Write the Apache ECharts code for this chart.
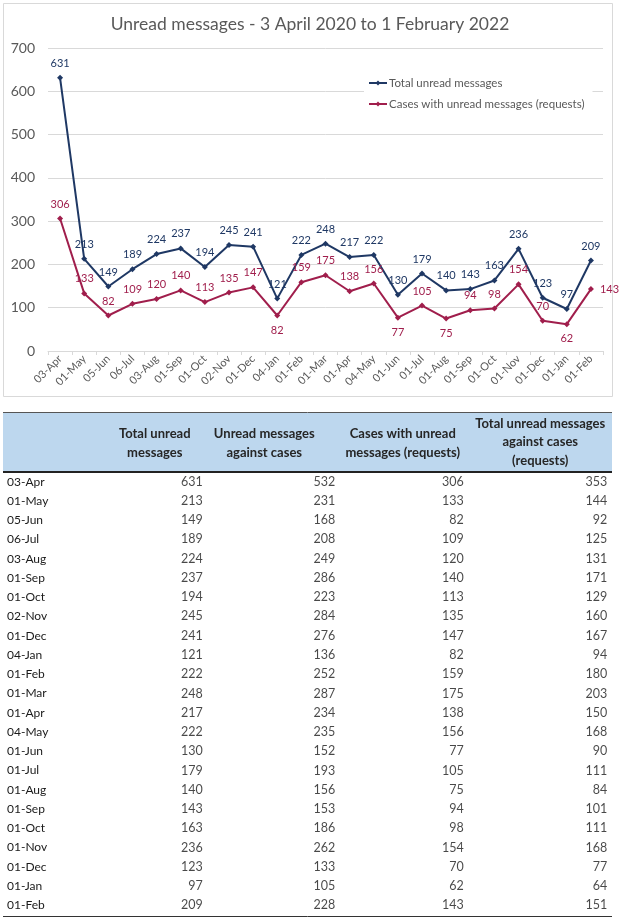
<!DOCTYPE html>
<html>
<head>
<meta charset="utf-8">
<script src="https://cdn.jsdelivr.net/npm/echarts@6/dist/echarts.min.js"></script>
<style>
html,body{margin:0;padding:0;background:#fff;}
#main{width:620px;height:920px;}
</style>
</head>
<body>
<div id="main"></div>
<script>
const dates = ['03-Apr','01-May','05-Jun','06-Jul','03-Aug','01-Sep','01-Oct','02-Nov','01-Dec','04-Jan','01-Feb','01-Mar','01-Apr','04-May','01-Jun','01-Jul','01-Aug','01-Sep','01-Oct','01-Nov','01-Dec','01-Jan','01-Feb'];
const totalUnread = [631,213,149,189,224,237,194,245,241,121,222,248,217,222,130,179,140,143,163,236,123,97,209];
const unreadAgainstCases = [532,231,168,208,249,286,223,284,276,136,252,287,234,235,152,193,156,153,186,262,133,105,228];
const casesWithUnread = [306,133,82,109,120,140,113,135,147,82,159,175,138,156,77,105,75,94,98,154,70,62,143];
const totalAgainstCases = [353,144,92,125,131,171,129,160,167,94,180,203,150,168,90,111,84,101,111,168,77,64,151];
const yTicks = {min:0, max:700, interval:100};
const chartTitle = 'Unread messages - 3 April 2020 to 1 February 2022';
const seriesNames = ['Total unread messages','Cases with unread messages (requests)'];
const tableHeaders = ['Total unread\nmessages','Unread messages\nagainst cases','Cases with unread\nmessages (requests)','Total unread messages\nagainst cases\n(requests)'];
const tableColumns = [totalUnread, unreadAgainstCases, casesWithUnread, totalAgainstCases];

// style config (label placement tweaks)
const casesLabelBelow = [9,14,16,21];
const casesLabelRight = [22];
const headerShift = [8,-12,-3,5];
const valueOffset = [56,59,58,72];

const FONT = 'Lato, "Open Sans", sans-serif';
const NAVY = '#1F3864';
const RED = '#A01E4C';
const GREY = '#595959';

const chart = echarts.init(document.getElementById('main'), null, {renderer:'canvas'});

const casesData = casesWithUnread.map((v,i)=>{
  if (casesLabelBelow.includes(i)) return {value:v, label:{position:'bottom'}};
  if (casesLabelRight.includes(i)) return {value:v, label:{position:'right'}};
  return v;
});

const tableSeries = tableColumns.map((col,k)=>({
  type:'scatter',
  xAxisIndex:1, yAxisIndex:1,
  symbolSize:0,
  silent:true,
  data: col.map((v,i)=>[k,i,v]),
  encode:{x:0,y:1},
  label:{
    show:true, position:'inside', align:'right', verticalAlign:'middle',
    offset:[valueOffset[k],0],
    formatter:p=>String(p.value[2]),
    color:'#1a1a1a', fontSize:12.5, fontFamily:FONT
  }
}));

const HEADER_LH = 18.5;
const headerData = tableHeaders.map((h,k)=>{
  const lines = h.split('\n').length;
  const bottomPad = (3 - lines) * 8.25;
  const s = headerShift[k];
  return {
    value:h,
    textStyle:{padding:[0, s < 0 ? -2*s : 0, bottomPad, s > 0 ? 2*s : 0]}
  };
});

const option = {
  backgroundColor:'#fff',
  animation:false,
  title:{
    text:chartTitle, left:'center', top:10,
    textStyle:{fontFamily:FONT, fontSize:17.5, fontWeight:'normal', color:GREY}
  },
  legend:{
    orient:'vertical', left:364, top:73,
    backgroundColor:'#fff', padding:[4,8,4,4],
    itemWidth:18, itemHeight:6, itemGap:9,
    data:seriesNames,
    textStyle:{fontFamily:FONT, fontSize:11.5, color:GREY, padding:[0,0,0,-3]}
  },
  grid:[
    {left:48, right:17, top:48, bottom:569},
    {left:82, width:518, top:472, height:443}
  ],
  xAxis:[
    {
      type:'category', gridIndex:0, data:dates, boundaryGap:true,
      axisLine:{show:true, lineStyle:{color:'#d9d9d9'}},
      axisTick:{show:true, length:4, lineStyle:{color:'#d9d9d9'}},
      axisLabel:{rotate:45, fontSize:11, color:GREY, fontFamily:FONT, margin:6, interval:0}
    },
    {
      type:'category', gridIndex:1, position:'top',
      data: headerData,
      axisLine:{show:false}, axisTick:{show:false}, splitLine:{show:false},
      axisLabel:{interval:0, fontSize:13, fontWeight:'bold', color:'#262626', fontFamily:FONT,
        lineHeight:HEADER_LH, align:'center', margin:2}
    }
  ],
  yAxis:[
    {
      type:'value', gridIndex:0, min:yTicks.min, max:yTicks.max, interval:yTicks.interval,
      axisLine:{show:false}, axisTick:{show:false},
      splitLine:{lineStyle:{color:'#d9d9d9'}},
      axisLabel:{fontSize:14, color:GREY, fontFamily:FONT, margin:13}
    },
    {
      type:'category', gridIndex:1, data:dates, inverse:true,
      axisLine:{show:false}, axisTick:{show:false}, splitLine:{show:false},
      axisLabel:{interval:0, align:'left', margin:75, fontSize:12, color:'#1a1a1a', fontFamily:FONT}
    }
  ],
  graphic:[
    {type:'rect', silent:true, z:-10, shape:{x:3.5,y:3.5,width:609,height:393}, style:{fill:'#fff', stroke:'#d9d9d9', lineWidth:1}},
    {type:'rect', silent:true, z:-10, shape:{x:3,y:413,width:609,height:58}, style:{fill:'#BDD7EE'}},
    {type:'line', silent:true, shape:{x1:3,y1:412.5,x2:612,y2:412.5}, style:{stroke:'#555', lineWidth:1}},
    {type:'line', silent:true, shape:{x1:3,y1:472,x2:612,y2:472}, style:{stroke:'#222', lineWidth:2}},
    {type:'line', silent:true, shape:{x1:3,y1:916.5,x2:612,y2:916.5}, style:{stroke:'#333', lineWidth:1}}
  ],
  series:[
    {
      name:seriesNames[0], type:'line', xAxisIndex:0, yAxisIndex:0,
      data:totalUnread, symbol:'diamond', symbolSize:6,
      lineStyle:{color:NAVY, width:2}, itemStyle:{color:NAVY},
      label:{show:true, position:'top', distance:6, fontSize:11, color:NAVY, fontFamily:FONT}
    },
    {
      name:seriesNames[1], type:'line', xAxisIndex:0, yAxisIndex:0,
      data:casesData, symbol:'diamond', symbolSize:6,
      lineStyle:{color:RED, width:2}, itemStyle:{color:RED},
      label:{show:true, position:'top', distance:6, fontSize:11, color:RED, fontFamily:FONT}
    },
    ...tableSeries
  ]
};
chart.setOption(option);
</script>
</body>
</html>
